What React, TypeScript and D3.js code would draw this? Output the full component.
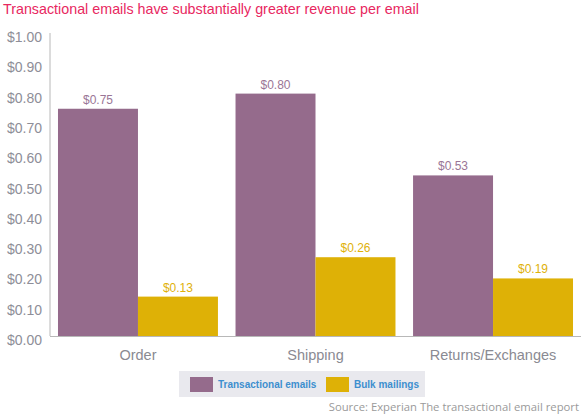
import React from "react";
import * as d3 from "d3";

const categories = ["Order", "Shipping", "Returns/Exchanges"];
const seriesNames = ["Transactional emails", "Bulk mailings"];
const transactional = [0.75, 0.8, 0.53];
const bulk = [0.13, 0.26, 0.19];
const yTicks = [0, 0.1, 0.2, 0.3, 0.4, 0.5, 0.6, 0.7, 0.8, 0.9, 1.0];

const W = 581;
const H = 415;
const colors = ["#956b8c", "#deb106"];
const labelColors = ["#9a7596", "#e0b10a"];

export default function App() {
  const x = d3
    .scaleBand<string>()
    .domain(categories)
    .range([50, 581])
    .paddingInner(0.099)
    .paddingOuter(0.045);
  const x1 = d3.scaleBand<number>().domain([0, 1]).range([0, x.bandwidth()]);
  const y = d3.scaleLinear().domain([0, 1]).range([336, 33]);
  const series = [transactional, bulk];
  const fmt = (v: number) => "$" + d3.format(".2f")(v);

  return (
    <svg
      width={W}
      height={H}
      style={{ position: "absolute", left: 0, top: 0, background: "#fff" }}
      fontFamily="'Liberation Sans', Arial, sans-serif"
    >
      <text x={3} y={14} fontSize={14.3} fill="#e8285f">
        Transactional emails have substantially greater revenue per email
      </text>

      {yTicks.map((t) => (
        <text
          key={t}
          x={42}
          y={y(t) + 9}
          textAnchor="end"
          fontSize={14}
          fill="#8e8e98"
        >
          {fmt(t)}
        </text>
      ))}

      {series.map((vals, si) =>
        vals.map((v, i) => {
          const bx = (x(categories[i]) as number) + (x1(si) as number);
          return (
            <g key={si + "-" + i}>
              <rect
                x={bx}
                y={y(v)}
                width={x1.bandwidth()}
                height={y(0) - y(v)}
                fill={colors[si]}
              />
              <text
                x={bx + x1.bandwidth() / 2}
                y={y(v) - 5}
                textAnchor="middle"
                fontSize={12}
                fill={labelColors[si]}
              >
                {fmt(v)}
              </text>
            </g>
          );
        })
      )}

      <line x1={50} x2={50} y1={33} y2={336} stroke="#b8b8b8" strokeWidth={1} />
      <line x1={50} x2={581} y1={336.5} y2={336.5} stroke="#b8b8b8" strokeWidth={1} />

      {categories.map((c) => (
        <text
          key={c}
          x={(x(c) as number) + x.bandwidth() / 2}
          y={360}
          textAnchor="middle"
          fontSize={14.5}
          fill="#8a8a92"
        >
          {c}
        </text>
      ))}

      <rect x={179} y={371} width={246} height={26} fill="#e9e9ee" />
      {seriesNames.map((s, i) => {
        const lx = i === 0 ? 190 : 326;
        return (
          <g key={s}>
            <rect x={lx} y={377} width={23} height={15} fill={colors[i]} />
            <text
              x={lx + 28}
              y={388}
              fontSize={10}
              fontWeight="bold"
              fill="#3d8fcf"
            >
              {s}
            </text>
          </g>
        );
      })}

      <text
        x={579}
        y={411}
        textAnchor="end"
        fontSize={11.3}
        fontFamily="'Open Sans', 'Noto Sans', sans-serif"
        fill="#9a9a9a"
      >
        Source: Experian The transactional email report
      </text>
    </svg>
  );
}
